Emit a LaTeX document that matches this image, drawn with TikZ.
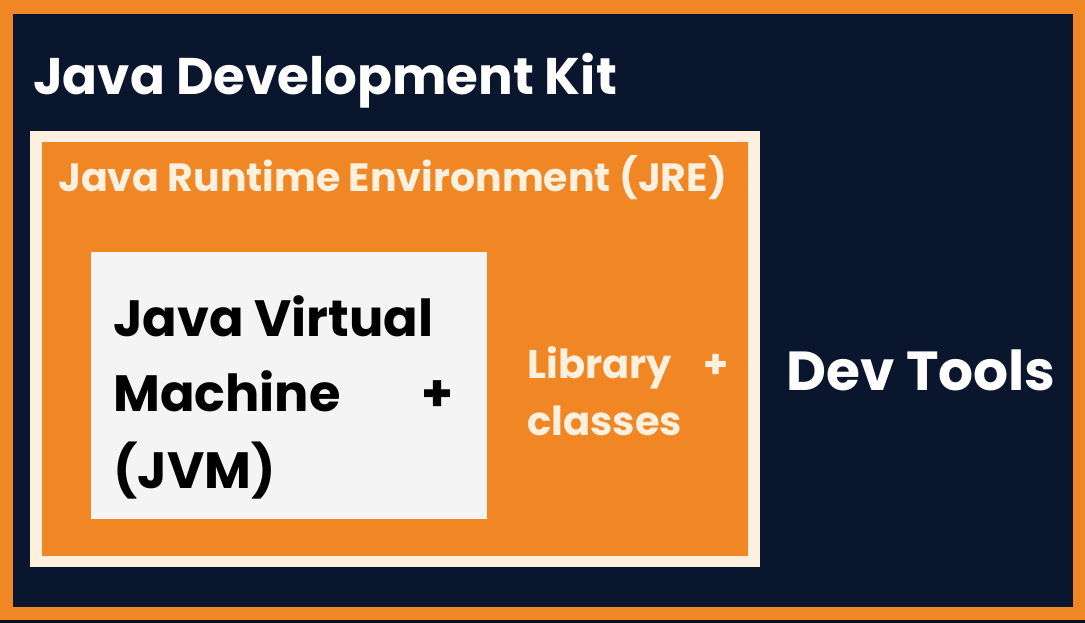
\documentclass[tikz,border=0pt]{standalone}
\usepackage{fontspec}
\setmainfont{Poppins}
\definecolor{navy}{RGB}{10,22,46}
\definecolor{jorange}{RGB}{240,134,36}
\definecolor{cream}{RGB}{253,240,222}
\definecolor{jvmbg}{RGB}{244,244,244}
\begin{document}
\begin{tikzpicture}[x=1pt,y=-1pt,
  lbl/.style={anchor=base west,inner sep=0pt,font=\bfseries},
]
\useasboundingbox (0,0) rectangle (1085,623);
\fill[navy!70!black] (0,0) rectangle (1085,623);
\fill[jorange] (0,0) rectangle (1085,620);
\fill[navy] (13,14) rectangle (1073,607);
% JRE
\node[fill=cream,minimum width=730pt,minimum height=436pt,inner sep=0pt,anchor=north west] (jreout) at (30,131) {};
\node[fill=jorange,minimum width=706pt,minimum height=414pt,inner sep=0pt,anchor=north west] (jre) at (42,142) {};
% JVM
\node[fill=jvmbg,minimum width=396pt,minimum height=267pt,inner sep=0pt,anchor=north west] (jvm) at (91,252) {};
% texts
\node[lbl,text=white,font=\bfseries\fontsize{51.5}{56}\selectfont] (title) at (33,95) {Java Development Kit};
\node[lbl,text=cream,font=\bfseries\fontsize{39.5}{44}\selectfont] (jretxt) at (58,192) {Java Runtime Environment (JRE)};
\node[lbl,text=black,font=\bfseries\fontsize{51}{56}\selectfont] (jvm1) at (113,336) {Java Virtual};
\node[lbl,text=black,font=\bfseries\fontsize{51}{56}\selectfont] (jvm2) at (113,411) {Machine};
\node[lbl,text=black,font=\bfseries\fontsize{51}{56}\selectfont] (jvmplus) at (421,411) {+};
\node[lbl,text=black,font=\bfseries\fontsize{51}{56}\selectfont] (jvm3) at (113,488) {(JVM)};
\node[lbl,text=cream,font=\bfseries\fontsize{40}{44}\selectfont] (lib1) at (527,378) {Library};
\node[lbl,text=cream,font=\bfseries\fontsize{40}{44}\selectfont] (libplus) at (703,378) {+};
\node[lbl,text=cream,font=\bfseries\fontsize{40}{44}\selectfont] (lib2) at (527,435) {classes};
\node[lbl,text=white,font=\bfseries\fontsize{55}{60}\selectfont] (dev) at (786,390) {Dev Tools};
\end{tikzpicture}
\end{document}
